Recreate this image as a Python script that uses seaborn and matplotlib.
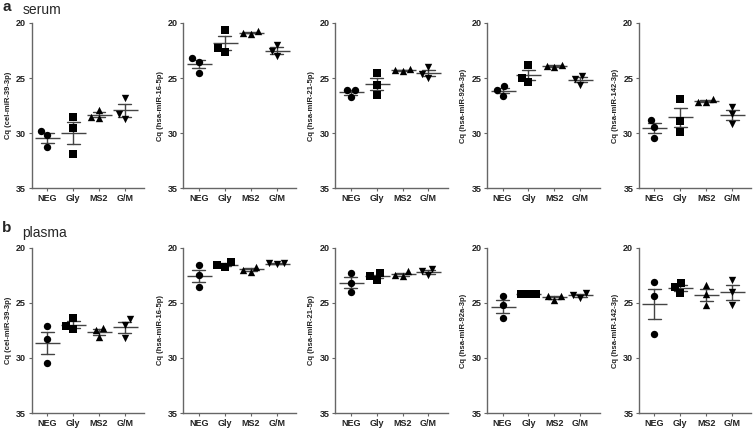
import pandas as pd
import seaborn as sns
import matplotlib.pyplot as plt

groups = ["NEG", "Gly", "MS2", "G/M"]
markers = ["o", "s", "^", "v"]
mirnas = ["cel-miR-39-3p", "hsa-miR-16-5p", "hsa-miR-21-5p", "hsa-miR-92a-3p", "hsa-miR-142-3p"]

# Cq values, three replicates per group (NEG, Gly, MS2, G/M)
serum_mir39 = [[29.8, 30.2, 31.3], [28.5, 29.5, 31.9], [27.9, 28.6, 28.5], [26.8, 28.7, 28.3]]
serum_mir16 = [[23.2, 23.5, 24.5], [20.6, 22.6, 22.3], [20.7, 21.0, 20.9], [22.0, 23.0, 22.5]]
serum_mir21 = [[26.1, 26.1, 26.7], [24.5, 25.6, 26.5], [24.2, 24.4, 24.3], [24.0, 25.0, 24.6]]
serum_mir92a = [[25.7, 26.6, 26.1], [23.8, 25.4, 25.0], [23.8, 24.0, 23.9], [24.8, 25.6, 25.1]]
serum_mir142 = [[28.8, 29.4, 30.4], [26.9, 28.9, 29.9], [26.9, 27.2, 27.2], [27.6, 28.3, 29.2]]

plasma_mir39 = [[27.1, 28.3, 30.5], [26.4, 27.4, 27.1], [27.3, 27.5, 28.1], [26.5, 27.0, 28.2]]
plasma_mir16 = [[21.6, 22.5, 23.6], [21.3, 21.7, 21.6], [21.7, 22.2, 22.0], [21.4, 21.5, 21.4]]
plasma_mir21 = [[22.3, 23.2, 24.0], [22.3, 22.9, 22.6], [22.1, 22.6, 22.5], [21.9, 22.5, 22.1]]
plasma_mir92a = [[24.4, 25.2, 26.4], [24.15, 24.2, 24.2], [24.35, 24.75, 24.4], [24.1, 24.55, 24.25]]
plasma_mir142 = [[23.1, 24.4, 27.8], [23.2, 24.1, 23.6], [23.4, 24.2, 25.2], [22.9, 24.0, 25.2]]

serum = [serum_mir39, serum_mir16, serum_mir21, serum_mir92a, serum_mir142]
plasma = [plasma_mir39, plasma_mir16, plasma_mir21, plasma_mir92a, plasma_mir142]


def to_frame(values):
    rows = []
    for g, vals in zip(groups, values):
        for v in vals:
            rows.append({"group": g, "Cq": v})
    return pd.DataFrame(rows)


sns.set_theme(style="ticks")
plt.rcParams["font.family"] = ["Liberation Sans", "DejaVu Sans"]
plt.rcParams["axes.edgecolor"] = "#666666"
plt.rcParams["xtick.color"] = "#666666"
plt.rcParams["ytick.color"] = "#666666"

fig, axes = plt.subplots(2, 5, figsize=(7.53, 4.33), dpi=100)
plt.subplots_adjust(left=0.042, right=0.998, bottom=0.046, top=0.947, wspace=0.347, hspace=0.36)

for r, sample in enumerate([serum, plasma]):
    for c, values in enumerate(sample):
        ax = axes[r, c]
        df = to_frame(values)
        sns.pointplot(data=df, x="group", y="Cq", order=groups, errorbar="se",
                      capsize=0.5, marker="_", markersize=18, markeredgewidth=1,
                      linestyle="none", color="#444444", err_kws={"linewidth": 1},
                      ax=ax)
        for g, m in zip(groups, markers):
            sns.swarmplot(data=df[df["group"] == g], x="group", y="Cq", order=groups,
                          marker=m, color="black", size=5.3, linewidth=0, ax=ax)
        ax.set_ylim(35, 20)
        ax.set_yticks([20, 25, 30, 35])
        ax.set_xlim(-0.6, 3.75)
        ax.set_xlabel("")
        ax.set_ylabel(f"Cq ({mirnas[c]})", fontsize=5.5, fontweight="bold",
                      color="#222222", labelpad=3)
        ax.tick_params(axis="both", labelsize=6.5, length=2.5, width=0.8, pad=1.5,
                       labelcolor="#222222")
        for lab in ax.get_xticklabels() + ax.get_yticklabels():
            lab.set_fontweight("bold")
        sns.despine(ax=ax)
        ax.spines["left"].set_linewidth(1)
        ax.spines["bottom"].set_linewidth(1)

fig.text(0.003, 0.984, "a", fontsize=11, fontweight="bold", va="center")
fig.text(0.03, 0.977, "serum", fontsize=10, va="center")
fig.text(0.003, 0.473, "b", fontsize=11, fontweight="bold", va="center")
fig.text(0.03, 0.462, "plasma", fontsize=10, va="center")

fig.savefig("out.png", dpi=100)
